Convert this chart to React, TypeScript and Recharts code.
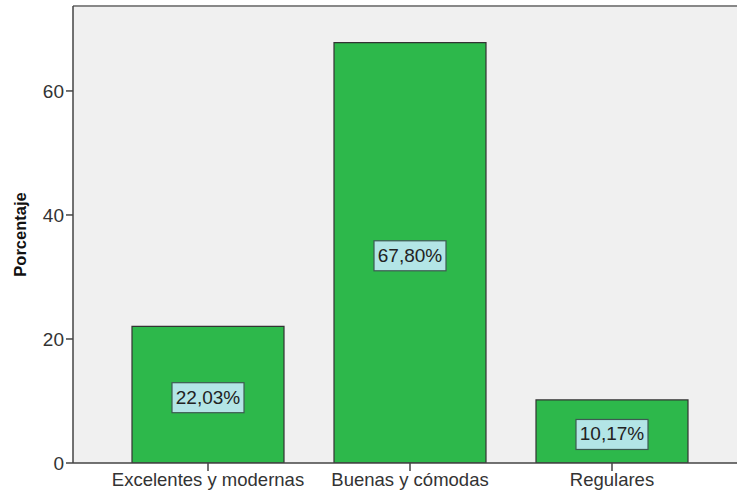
import React from "react";
import {
  BarChart,
  Bar,
  XAxis,
  YAxis,
  CartesianGrid,
  ReferenceLine,
  LabelList,
} from "recharts";

// Categories and percentages
const categories = ["Excelentes y modernas", "Buenas y cómodas", "Regulares"];
const percentages = [22.03, 67.8, 10.17];
const yTicks = [0, 20, 40, 60];
const yMax = 73.7;

const data = categories.map((name, i) => ({ name, value: percentages[i] }));

const FONT = "'Liberation Sans', Arial, sans-serif";

// Boxed percentage label at the middle of each bar
function ValueBox(props: any) {
  const { x, y, width, height, value } = props;
  const cx = x + width / 2;
  const cy = y + height / 2 + 3;
  const text = value.toFixed(2).replace(".", ",") + "%";
  const w = 72;
  const h = 30;
  return (
    <g>
      <rect
        x={cx - w / 2}
        y={cy - h / 2}
        width={w}
        height={h}
        fill="#b3e5e6"
        stroke="#3d5a52"
        strokeWidth={1.2}
      />
      <text
        x={cx}
        y={cy + 1}
        textAnchor="middle"
        dominantBaseline="middle"
        fontFamily={FONT}
        fontSize={19}
        fill="#222"
      >
        {text}
      </text>
    </g>
  );
}

export default function App() {
  return (
    <div style={{ position: "absolute", left: 0, top: 0, background: "#fff" }}>
      <BarChart
        width={737}
        height={502}
        data={data}
        margin={{ top: 6, right: 0, bottom: 0, left: 0 }}
        barCategoryGap={25}
      >
        <CartesianGrid
          horizontal={false}
          vertical={false}
          fill="#f0f0f0"
        />
        <XAxis
          dataKey="name"
          height={39}
          padding={{ left: 34, right: 24 }}
          axisLine={{ stroke: "#444", strokeWidth: 1.5 }}
          tickLine={{ stroke: "#444", strokeWidth: 1.5 }}
          tickSize={8}
          tick={{ fontFamily: FONT, fontSize: 18.5, fill: "#333" }}
          interval={0}
        />
        <YAxis
          width={73}
          domain={[0, yMax]}
          ticks={yTicks}
          allowDataOverflow
          axisLine={{ stroke: "#444", strokeWidth: 1.5 }}
          tickLine={{ stroke: "#444", strokeWidth: 1.5 }}
          tickSize={7}
          tick={{ fontFamily: FONT, fontSize: 19, fill: "#333" }}
          label={{
            value: "Porcentaje",
            angle: -90,
            position: "insideLeft",
            offset: 20,
            style: {
              fontFamily: FONT,
              fontSize: 16.5,
              fontWeight: "bold",
              fill: "#111",
              textAnchor: "middle",
            },
          }}
        />
        <ReferenceLine y={yMax} stroke="#888" strokeWidth={2} ifOverflow="extendDomain" />
        <Bar
          dataKey="value"
          fill="#2db84b"
          stroke="#333"
          strokeWidth={1.2}
          isAnimationActive={false}
        >
          <LabelList dataKey="value" content={ValueBox} />
        </Bar>
      </BarChart>
    </div>
  );
}
